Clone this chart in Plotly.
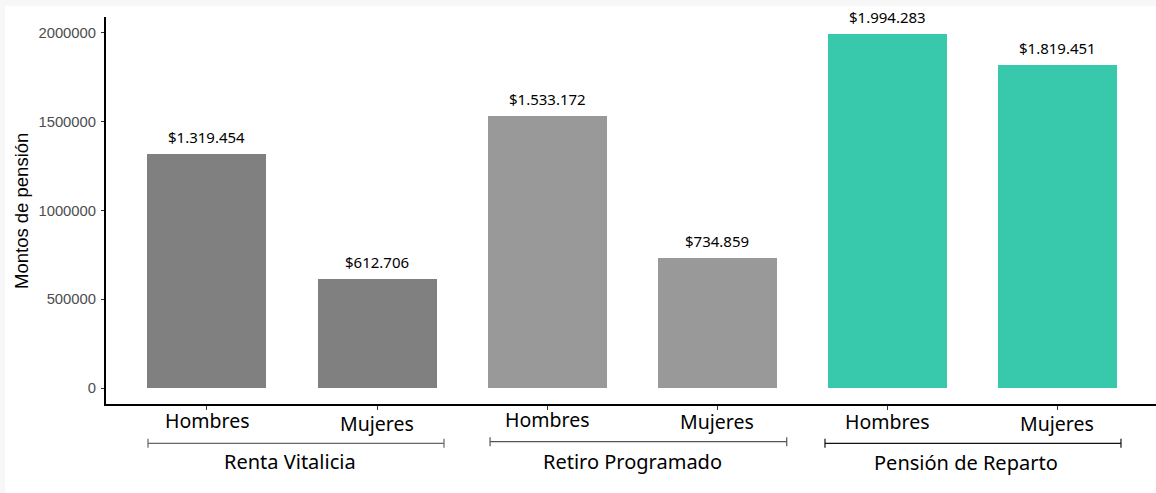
import plotly.graph_objects as go

# Monthly pension amounts by pension scheme and sex
groups = ["Renta Vitalicia", "Retiro Programado", "Pensión de Reparto"]
sexes = ["Hombres", "Mujeres"]
group_of_bar = ["Renta Vitalicia", "Renta Vitalicia",
                "Retiro Programado", "Retiro Programado",
                "Pensión de Reparto", "Pensión de Reparto"]
sex_of_bar = ["Hombres", "Mujeres", "Hombres", "Mujeres", "Hombres", "Mujeres"]
montos = [1319454, 612706, 1533172, 734859, 1994283, 1819451]
y_ticks = [0, 500000, 1000000, 1500000, 2000000]

group_colors = {"Renta Vitalicia": "#808080",
                "Retiro Programado": "#999999",
                "Pensión de Reparto": "#38c9ac"}

positions = list(range(len(montos)))
W, H = 1156, 493
L, R, T, B = 106, 0, 17, 89
PW, PH = W - L - R, H - T - B


def px_to_paper_y(py):
    return (H - B - py) / PH


def px_to_paper_x(px):
    return (px - L) / PW


def fmt_clp(v):
    return "$" + f"{v:,}".replace(",", ".")


label_font = "Noto Sans, Lato, sans-serif"

fig = go.Figure()
fig.add_trace(go.Bar(
    x=positions,
    y=montos,
    width=0.7,
    marker=dict(color=[group_colors[g] for g in group_of_bar], line=dict(width=0)),
    hoverinfo="skip",
    showlegend=False,
))

annotations = []
# value labels above each bar
for xpos, v in zip(positions, montos):
    annotations.append(dict(
        x=xpos, y=v, xref="x", yref="y", text=fmt_clp(v), showarrow=False,
        yanchor="bottom", yshift=5,
        font=dict(family=label_font, size=15, color="#000000"),
    ))

# category labels under the x axis
sex_label_y = [420.5, 423, 419.5, 421.5, 421.5, 423]
for xpos, s, py in zip(positions, sex_of_bar, sex_label_y):
    annotations.append(dict(
        x=xpos, y=px_to_paper_y(py), xref="x", yref="paper", text=s,
        showarrow=False, yanchor="middle",
        font=dict(family=label_font, size=19.5, color="#000000"),
    ))

# group brackets and group names
brackets = [(-0.347, 1.394, 443.3, "#666666", 0.488, 461),
            (1.665, 3.41, 441.7, "#555555", 2.5, 461),
            (3.635, 5.376, 443.3, "#111111", 4.465, 462)]
shapes = []
for (x0, x1, py, col, xc, ty), g in zip(brackets, groups):
    yl = px_to_paper_y(py)
    cap = 4.5 / PH
    shapes.append(dict(type="line", xref="x", yref="paper", x0=x0, x1=x1,
                       y0=yl, y1=yl, line=dict(color=col, width=1.2)))
    for xe in (x0, x1):
        shapes.append(dict(type="line", xref="x", yref="paper", x0=xe, x1=xe,
                           y0=yl - cap, y1=yl + cap, line=dict(color=col, width=1.2)))
    annotations.append(dict(
        x=xc, y=px_to_paper_y(ty), xref="x", yref="paper", text=g,
        showarrow=False, yanchor="middle",
        font=dict(family=label_font, size=20, color="#000000"),
    ))

# y-axis title
annotations.append(dict(
    x=px_to_paper_x(22), y=px_to_paper_y(211), xref="paper", yref="paper",
    text="Montos de pensión", textangle=-90, showarrow=False,
    xanchor="center", yanchor="middle",
    font=dict(family="Liberation Sans, Arial, sans-serif", size=18.5, color="#000000"),
))

# thin light frame along the top and left edges of the page
frame = "#f7f7f7"
shapes.append(dict(type="rect", xref="paper", yref="paper", layer="below",
                   x0=px_to_paper_x(0), x1=1, y0=px_to_paper_y(6), y1=px_to_paper_y(0),
                   fillcolor=frame, line=dict(width=0)))
shapes.append(dict(type="rect", xref="paper", yref="paper", layer="below",
                   x0=px_to_paper_x(0), x1=px_to_paper_x(5), y0=px_to_paper_y(H), y1=px_to_paper_y(0),
                   fillcolor=frame, line=dict(width=0)))

fig.update_layout(
    width=W, height=H,
    margin=dict(l=L, r=R, t=T, b=B, pad=0),
    paper_bgcolor="white", plot_bgcolor="white",
    annotations=annotations, shapes=shapes,
    xaxis=dict(range=[-0.594, 5.582], tickvals=positions, showticklabels=False,
               showgrid=False, zeroline=False, showline=True, linecolor="black",
               linewidth=2, ticks="outside", ticklen=4, tickcolor="#333333",
               tickwidth=1, fixedrange=True),
    yaxis=dict(range=[-90000, 2090000], tickvals=y_ticks,
               ticktext=[str(v) for v in y_ticks], showgrid=False, zeroline=False,
               showline=True, linecolor="black", linewidth=2, ticks="outside",
               ticklen=3, tickcolor="#333333", tickwidth=1, ticklabelstandoff=2,
               tickfont=dict(family="Liberation Sans, Arial, sans-serif", size=14.8,
                             color="#4d4d4d"), fixedrange=True),
    bargap=0,
)

fig.write_html("out.html")
